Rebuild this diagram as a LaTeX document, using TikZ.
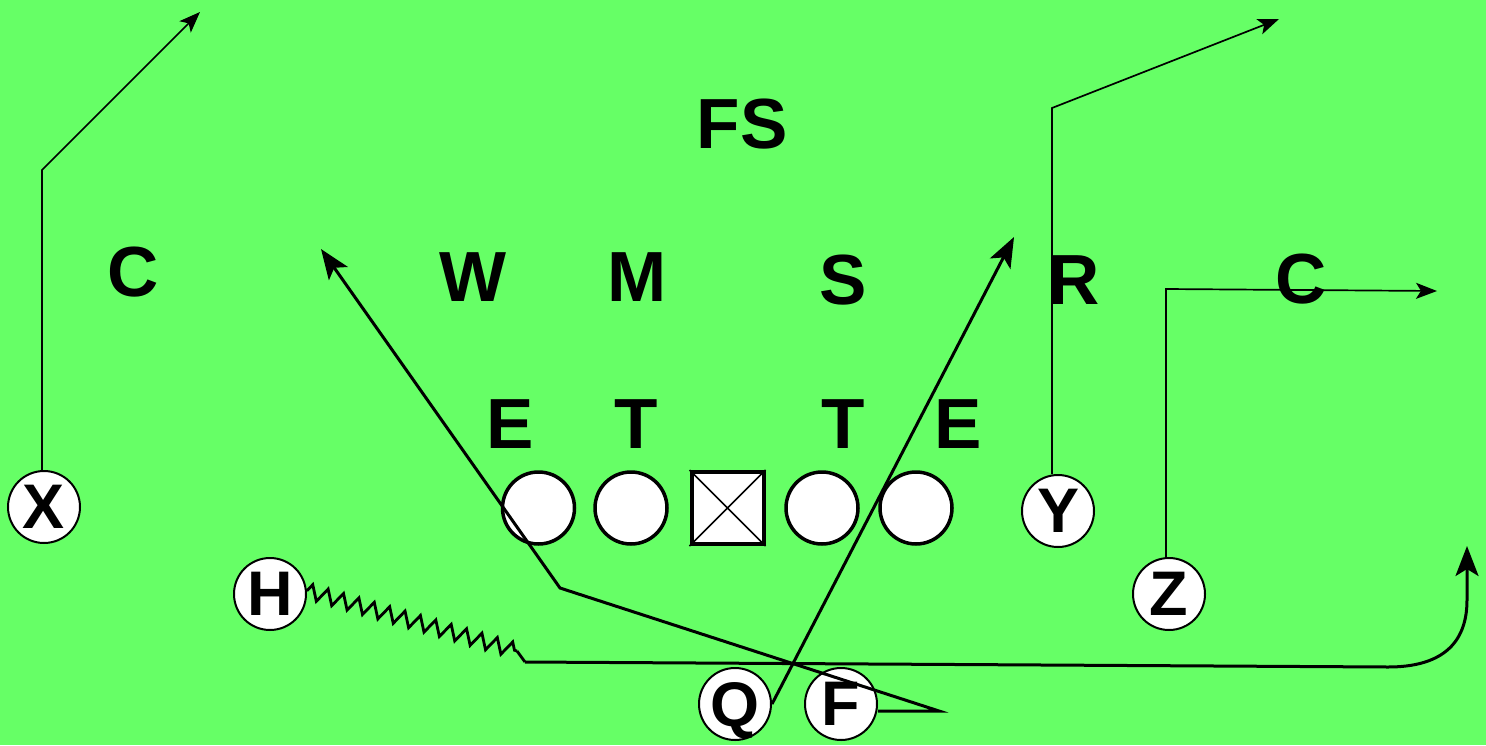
\documentclass[tikz,border=0pt]{standalone}
\usepackage{fontspec}
\setmainfont{Liberation Sans}
\usetikzlibrary{arrows.meta,decorations.pathmorphing}
\definecolor{field}{HTML}{66FF66}
\begin{document}
\begin{tikzpicture}[x=1pt,y=-1pt,
  player/.style={circle,draw,line width=2pt,fill=white,minimum size=72pt,inner sep=0pt,text depth=0pt,font=\bfseries\fontsize{63}{63}\selectfont},
  lineman/.style={circle,draw,line width=3.5pt,fill=white,minimum size=72pt,inner sep=0pt},
  centerbox/.style={draw,line width=4pt,fill=white,minimum size=72pt,inner sep=0pt},
  defender/.style={inner sep=0pt,font=\bfseries\fontsize{71}{71}\selectfont},
  thinroute/.style={line width=1.7pt,-{Stealth[length=21pt,width=16pt,inset=5pt]}},
  thickroute/.style={line width=3pt,-{Stealth[length=30pt,width=23pt,inset=7pt]}},
]
\fill[field] (0,0) rectangle (1486,745);
\useasboundingbox (0,0) rectangle (1486,745);

% defense
\node[defender] (fs) at (742,124) {FS};
\node[defender] (cl) at (133,272) {C};
\node[defender] (w) at (473,277) {W};
\node[defender] (m) at (637,277) {M};
\node[defender] (s) at (843,280) {S};
\node[defender] (r) at (1074,280) {R};
\node[defender] (cr) at (1301,279) {C};
\node[defender] (el) at (510,424) {E};
\node[defender] (tl) at (636,424) {T};
\node[defender] (tr) at (843,424) {T};
\node[defender] (er) at (958,424) {E};

% offensive line
\node[lineman] (lt) at (538.5,508) {};
\node[lineman] (lg) at (631,508) {};
\node[centerbox] (c) at (727.5,508) {};
\draw[line width=1.5pt] (c.north west) -- (c.south east) (c.north east) -- (c.south west);
\node[lineman] (rg) at (822,508) {};
\node[lineman] (rt) at (916,508) {};

% skill players
\node[player] (X) at (44,507) {X};
\node[player] (H) at (270,594) {H};
\node[player] (Y) at (1058,511) {Y};
\node[player] (Z) at (1169,594) {Z};
\node[player] (Q) at (735,704) {Q};
\node[player] (F) at (841,704) {F};

% route points
\coordinate (xbend) at (42,170);
\coordinate (xtip) at (200,12);
\coordinate (ybend) at (1052,108);
\coordinate (ytip) at (1279,19);
\coordinate (zbend) at (1166,289);
\coordinate (ztip) at (1437,291);
\coordinate (qtip) at (1014,237);
\coordinate (fcorner) at (939,711);
\coordinate (fmid) at (560,588);
\coordinate (ftip) at (321,249);
\coordinate (hz) at (517,651);
\coordinate (hs) at (525,662);
\coordinate (hc) at (1388,667);
\coordinate (hup) at (1467,600);
\coordinate (htip) at (1467,546);

% routes
\draw[thinroute] (xbend |- X.north) -- (xbend) -- (xtip);
\draw[thinroute] (ybend |- Y.north) -- (ybend) -- (ytip);
\draw[thinroute] (zbend |- Z.north) -- (zbend) -- (ztip);
\draw[thickroute] (Q.east) -- (qtip);
\draw[thickroute] (F.east |- fcorner) -- (fcorner) -- (fmid) -- (ftip);
\draw[line width=2.8pt,line join=miter,decorate,decoration={zigzag,segment length=16pt,amplitude=7.5pt}] (H.5) -- (hz);
\draw[line width=2.8pt] (hz) -- (hs);
\draw[thickroute] (hs) -- (hc) .. controls (1440,667) and (1467,645) .. (hup) -- (htip);
\end{tikzpicture}
\end{document}
